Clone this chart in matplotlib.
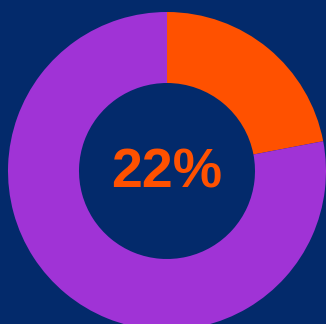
import matplotlib
matplotlib.use("Agg")
import matplotlib.pyplot as plt

# donut data
labels = ["share", "rest"]
values = [22, 78]
colors = ["#ff5100", "#a033d6"]
center_text = "22%"

bg = "#032a6b"

fig = plt.figure(figsize=(3.26, 3.24), dpi=100)
fig.patch.set_facecolor(bg)
ax = fig.add_axes([0, 0, 1, 1])
ax.set_facecolor(bg)

cx, cy = 167, 324 - 171
r_out, r_in = 159, 88
ax.pie(values, colors=colors, startangle=90, counterclock=False,
       center=(cx, cy), radius=r_out,
       wedgeprops=dict(width=r_out - r_in, linewidth=0))
ax.text(cx, cy - 2, center_text, ha="center", va="center",
        fontsize=40, fontweight="bold", color=colors[0],
        family="Liberation Sans")

ax.set_xlim(0, 326)
ax.set_ylim(0, 324)
ax.set_aspect("equal")
ax.axis("off")

fig.savefig("out.png", dpi=100, facecolor=bg)
